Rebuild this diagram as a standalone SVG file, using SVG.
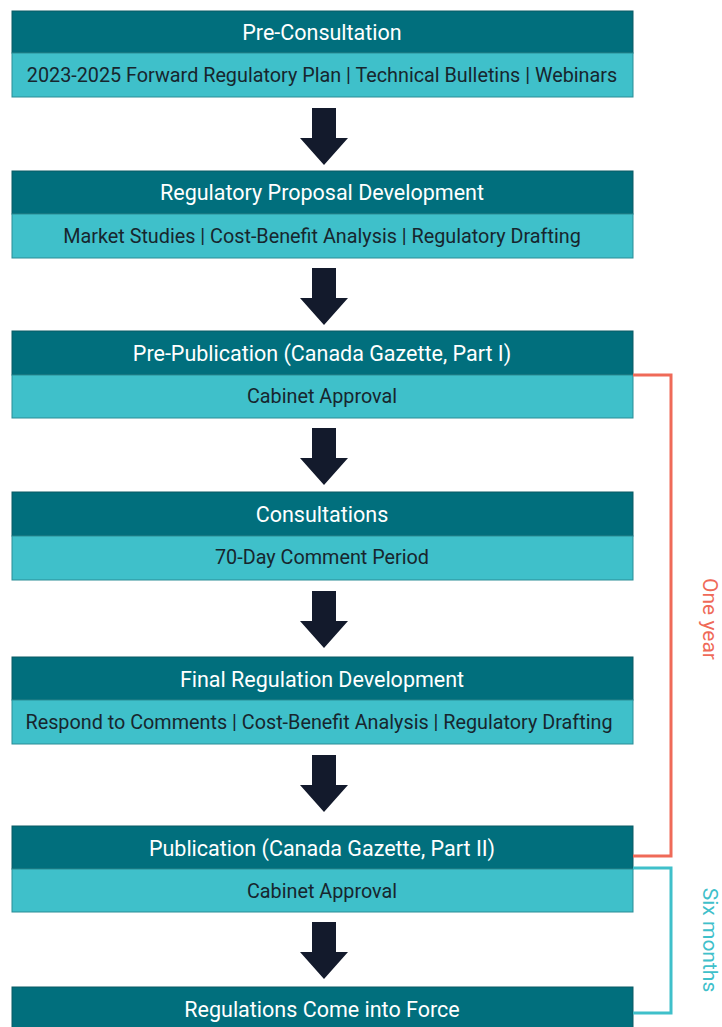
<svg xmlns="http://www.w3.org/2000/svg" width="722" height="1027" viewBox="0 0 722 1027">
<style>
.hd{fill:#016f7d;stroke:#0b5a64;stroke-width:1}
.bd{fill:#3fc0ca;stroke:#2a8d96;stroke-width:1}
.ht{font-family:Roboto,"Liberation Sans",sans-serif;font-size:21.5px;fill:#ffffff;text-anchor:middle}
.bt{font-family:Roboto,"Liberation Sans",sans-serif;font-size:19.8px;fill:#17262e;text-anchor:middle}
.ar{fill:#131a2c}
.lb{font-family:Roboto,"Liberation Sans",sans-serif;font-size:21px;text-anchor:middle}
</style>
<rect width="722" height="1027" fill="#ffffff"/>
<g id="n1"><rect class="hd" x="12" y="11" width="621" height="42"/><rect class="bd" x="12" y="53" width="621" height="44"/><text class="ht" x="322" y="40">Pre-Consultation</text><text class="bt" x="322" y="82">2023-2025 Forward Regulatory Plan | Technical Bulletins | Webinars</text></g>
<g id="n2"><rect class="hd" x="12" y="171" width="621" height="43"/><rect class="bd" x="12" y="214" width="621" height="44"/><text class="ht" x="322" y="200">Regulatory Proposal Development</text><text class="bt" x="322" y="243">Market Studies | Cost-Benefit Analysis | Regulatory Drafting</text></g>
<g id="n3"><rect class="hd" x="12" y="331" width="621" height="44"/><rect class="bd" x="12" y="375" width="621" height="43"/><text class="ht" x="322" y="361">Pre-Publication (Canada Gazette, Part I)</text><text class="bt" x="322" y="403">Cabinet Approval</text></g>
<g id="n4"><rect class="hd" x="12" y="492" width="621" height="44"/><rect class="bd" x="12" y="536" width="621" height="44"/><text class="ht" x="322" y="522">Consultations</text><text class="bt" x="322" y="564">70-Day Comment Period</text></g>
<g id="n5"><rect class="hd" x="12" y="657" width="621" height="43"/><rect class="bd" x="12" y="700" width="621" height="44"/><text class="ht" x="322" y="687">Final Regulation Development</text><text class="bt" x="319" y="729">Respond to Comments | Cost-Benefit Analysis | Regulatory Drafting</text></g>
<g id="n6"><rect class="hd" x="12" y="826" width="621" height="43"/><rect class="bd" x="12" y="869" width="621" height="43"/><text class="ht" x="322" y="856">Publication (Canada Gazette, Part II)</text><text class="bt" x="322" y="898">Cabinet Approval</text></g>
<g id="n7"><rect class="hd" x="12" y="987" width="621" height="50"/><text class="ht" x="322" y="1017">Regulations Come into Force</text></g>
<g id="connectors">
<polygon class="ar" points="312,108 336,108 336,138 348,138 324,165 300,138 312,138"/>
<polygon class="ar" points="312,268 336,268 336,298 348,298 324,325 300,298 312,298"/>
<polygon class="ar" points="312,428 336,428 336,458 348,458 324,485 300,458 312,458"/>
<polygon class="ar" points="312,591 336,591 336,621 348,621 324,648 300,621 312,621"/>
<polygon class="ar" points="312,755 336,755 336,785 348,785 324,812 300,785 312,785"/>
<polygon class="ar" points="312,922 336,922 336,952 348,952 324,979 300,952 312,952"/>
<polyline points="633,375 671,375 671,856 633,856" fill="none" stroke="#ef6a58" stroke-width="3"/>
<polyline points="633,868 671,868 671,1013 633,1013" fill="none" stroke="#3fc0ca" stroke-width="3"/>
<text class="lb" transform="translate(703,619) rotate(90)" fill="#ef6a58">One year</text>
<text class="lb" transform="translate(703,940) rotate(90)" fill="#3fc0ca">Six months</text>
</g>
</svg>
